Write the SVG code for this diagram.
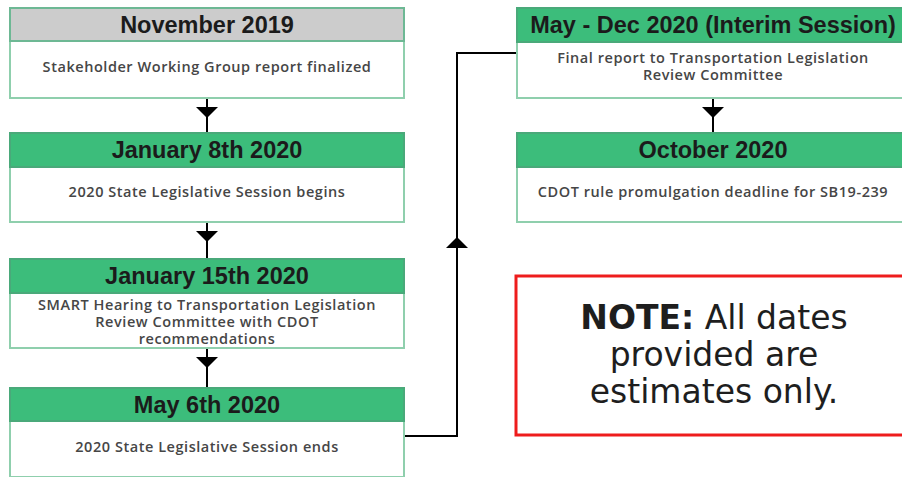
<svg xmlns="http://www.w3.org/2000/svg" width="902" height="477" viewBox="0 0 902 477">
  <defs>
    <style>
      .body { fill: #ffffff; stroke: #8fcfad; stroke-width: 2; }
      .head { fill: #3cbd7b; stroke: #4aa97a; stroke-width: 2; }
      .head-grey { fill: #cccccc; stroke: #6db894; stroke-width: 2; }
      .title { font-family: "Liberation Sans", Arial, sans-serif; font-weight: bold; font-size: 23.5px; fill: #1b1b1b; text-anchor: middle; }
      .desc { font-family: "Open Sans", "DejaVu Sans", sans-serif; font-weight: 600; font-size: 14.5px; letter-spacing: 0.55px; fill: #464646; text-anchor: middle; }
      .wire { fill: none; stroke: #000000; stroke-width: 2; }
      .head-tri { fill: #000000; }
      .note-box { fill: #ffffff; stroke: #ee1c1c; stroke-width: 3; }
      .note { font-family: "DejaVu Sans", "Open Sans", sans-serif; font-size: 33px; fill: #1e1e1e; text-anchor: middle; }
    </style>
  </defs>
  <rect width="902" height="477" fill="#ffffff"/>

  <!-- connectors -->
  <g id="connectors">
    <line class="wire" x1="207" y1="98" x2="207" y2="133"/>
    <polygon class="head-tri" points="196,107 218,107 207,118"/>
    <line class="wire" x1="207" y1="222" x2="207" y2="259"/>
    <polygon class="head-tri" points="196,231 218,231 207,242"/>
    <line class="wire" x1="207" y1="348" x2="207" y2="388"/>
    <polygon class="head-tri" points="196,357 218,357 207,368"/>
    <path class="wire" d="M404,436 H457 V53 H517"/>
    <polygon class="head-tri" points="446,248 468,248 457,237"/>
    <line class="wire" x1="713" y1="98" x2="713" y2="133"/>
    <polygon class="head-tri" points="702,107 724,107 713,118"/>
  </g>

  <g id="nov-2019">
    <rect class="body" x="10" y="41" width="394" height="57"/>
    <rect class="head-grey" x="10" y="8" width="394" height="33"/>
    <text class="title" x="207" y="33">November 2019</text>
    <text class="desc" x="207" y="72">Stakeholder Working Group report finalized</text>
  </g>

  <g id="jan-8-2020">
    <rect class="body" x="10" y="167" width="394" height="55"/>
    <rect class="head" x="10" y="133" width="394" height="34"/>
    <text class="title" x="207" y="158">January 8th 2020</text>
    <text class="desc" x="207" y="197">2020 State Legislative Session begins</text>
  </g>

  <g id="jan-15-2020">
    <rect class="body" x="10" y="293" width="394" height="55"/>
    <rect class="head" x="10" y="259" width="394" height="34"/>
    <text class="title" x="207" y="284">January 15th 2020</text>
    <text class="desc" x="207" y="310">SMART Hearing to Transportation Legislation</text>
    <text class="desc" x="207" y="327">Review Committee with CDOT</text>
    <text class="desc" x="207" y="344">recommendations</text>
  </g>

  <g id="may-6-2020">
    <rect class="body" x="10" y="421" width="394" height="56"/>
    <rect class="head" x="10" y="388" width="394" height="33"/>
    <text class="title" x="207" y="413">May 6th 2020</text>
    <text class="desc" x="207" y="452">2020 State Legislative Session ends</text>
  </g>

  <g id="interim-2020">
    <rect class="body" x="517" y="42" width="394" height="56"/>
    <rect class="head" x="517" y="8" width="394" height="34"/>
    <text class="title" x="713" y="33">May - Dec 2020 (Interim Session)</text>
    <text class="desc" x="713" y="63">Final report to Transportation Legislation</text>
    <text class="desc" x="713" y="80">Review Committee</text>
  </g>

  <g id="oct-2020">
    <rect class="body" x="517" y="167" width="394" height="55"/>
    <rect class="head" x="517" y="133" width="394" height="34"/>
    <text class="title" x="713" y="158">October 2020</text>
    <text class="desc" x="713" y="197">CDOT rule promulgation deadline for SB19-239</text>
  </g>

  <g id="note">
    <rect class="note-box" x="516" y="276" width="396" height="159"/>
    <text class="note" x="714" y="329"><tspan font-weight="bold">NOTE:</tspan> All dates</text>
    <text class="note" x="714" y="366">provided are</text>
    <text class="note" x="714" y="403">estimates only.</text>
  </g>
</svg>
